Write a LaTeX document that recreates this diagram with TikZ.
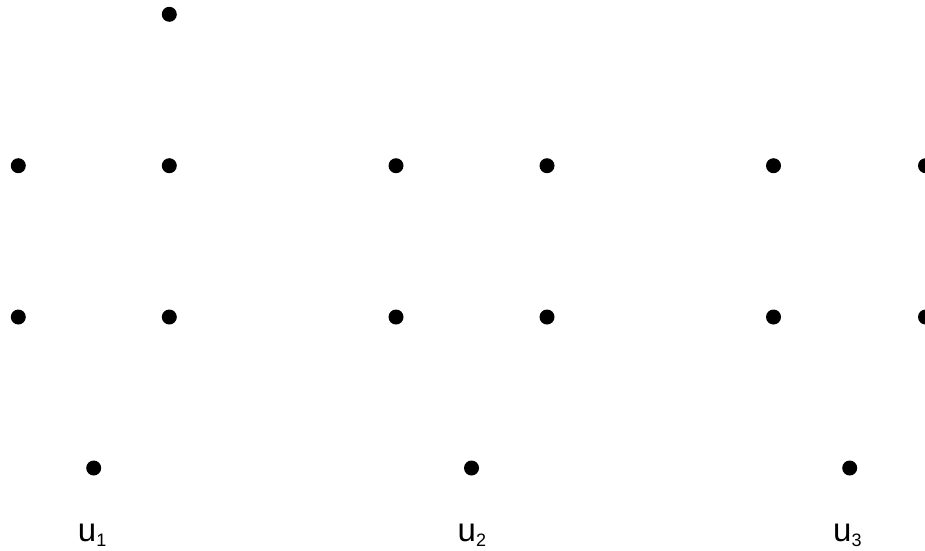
\documentclass[tikz,border=0pt]{standalone}
\usepackage{fontspec}
\setmainfont{Liberation Sans}
\newcommand{\ulab}[1]{{\fontsize{33}{36}\selectfont u\raisebox{-5pt}{\fontsize{18}{20}\selectfont #1}}}
\begin{document}
\begin{tikzpicture}[x=1pt,y=-1pt,
  dot/.style={circle,fill=black,inner sep=0pt,minimum size=15pt},
  lab/.style={inner sep=0pt,anchor=base west}]
\useasboundingbox (0,0) rectangle (925,550);
% group 1
\node[dot] (t1) at (169.3,14.3) {};
\node[dot] (a1) at (18.3,165.7) {};
\node[dot] (b1) at (169.3,165.7) {};
\node[dot] (c1) at (18.3,317) {};
\node[dot] (d1) at (169.3,317) {};
\node[dot] (u1) at (93.7,468) {};
% group 2
\node[dot] (a2) at (396,165.7) {};
\node[dot] (b2) at (547,165.7) {};
\node[dot] (c2) at (396,317) {};
\node[dot] (d2) at (547,317) {};
\node[dot] (u2) at (471.5,468) {};
% group 3
\node[dot] (a3) at (773.5,165.7) {};
\node[dot] (b3) at (925.5,165.7) {};
\node[dot] (c3) at (773.5,317) {};
\node[dot] (d3) at (925.5,317) {};
\node[dot] (u3) at (849.7,468) {};
% labels
\node[lab] (l1) at (77.7,541.7) {\ulab{1}};
\node[lab] (l2) at (457.5,541.7) {\ulab{2}};
\node[lab] (l3) at (833,541.7) {\ulab{3}};
\end{tikzpicture}
\end{document}
